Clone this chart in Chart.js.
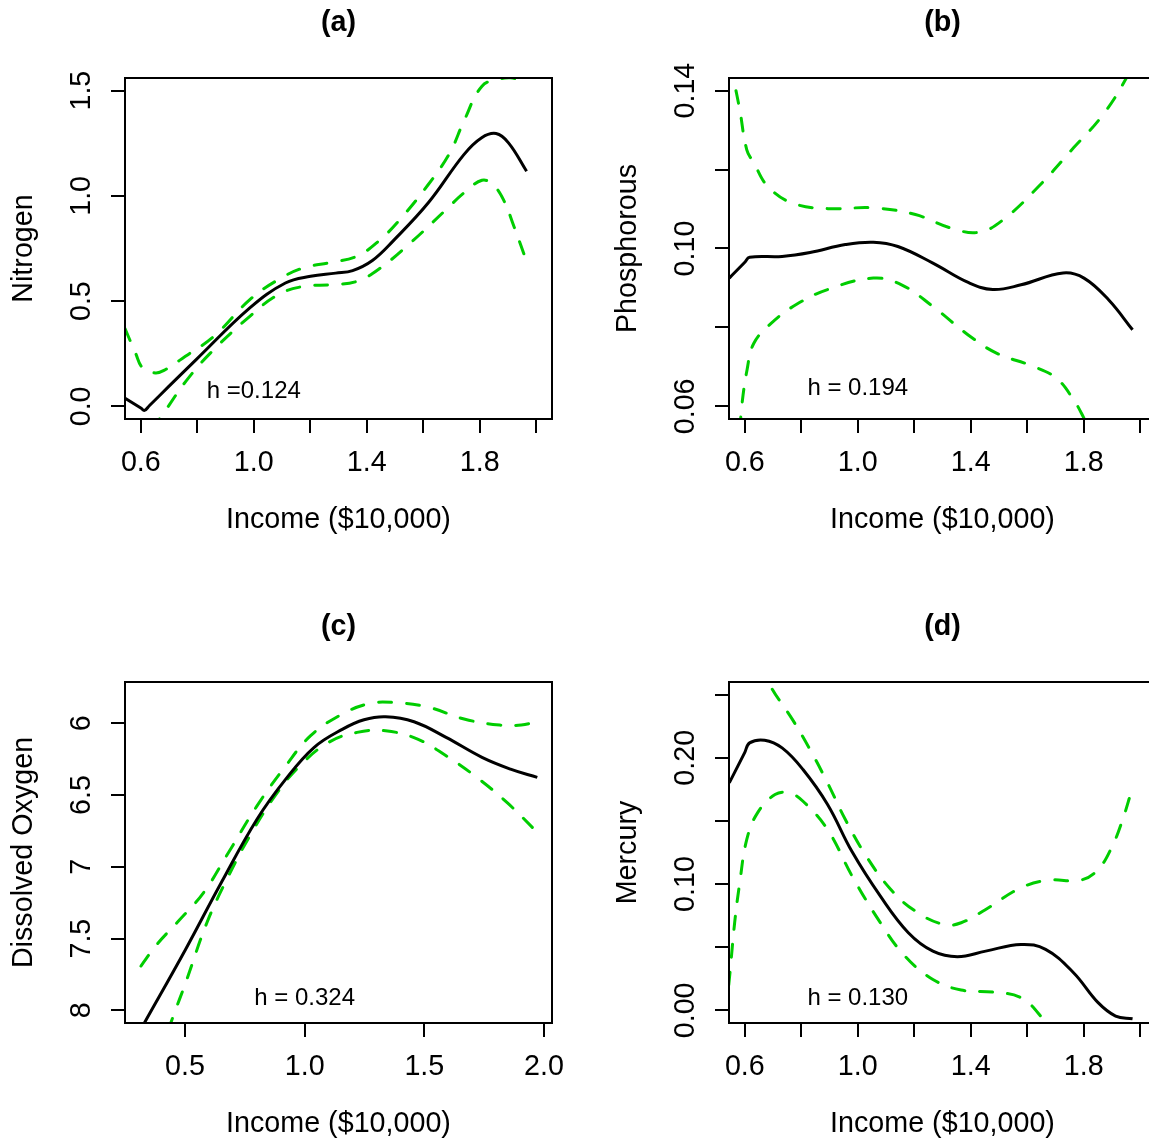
<!DOCTYPE html>
<html><head><meta charset="utf-8">
<script src="https://cdn.jsdelivr.net/npm/chart.js@4/dist/chart.umd.min.js"></script>
<style>
html,body{margin:0;padding:0;background:#fff;overflow:hidden;width:1149px;height:1139px;position:relative;}
.p{position:absolute;width:604px;height:604px;}
canvas{display:block;}
</style></head><body>
<div class="p" style="left:0px;top:0px"><canvas id="ca" width="604" height="604"></canvas></div>
<div class="p" style="left:604px;top:0px"><canvas id="cb" width="604" height="604"></canvas></div>
<div class="p" style="left:0px;top:604px"><canvas id="cc" width="604" height="604"></canvas></div>
<div class="p" style="left:604px;top:604px"><canvas id="cd" width="604" height="604"></canvas></div>
<script>
// ---------- data ----------
// (a) Nitrogen
const aFitX = [0.543, 0.600, 0.613, 0.630, 0.700, 0.796, 0.986, 1.112, 1.201, 1.290, 1.350, 1.420, 1.492, 1.618, 1.744, 1.807, 1.858, 1.902, 1.966];
const aFitY = [0.040, -0.008, -0.019, 0.003, 0.096, 0.222, 0.468, 0.586, 0.618, 0.633, 0.645, 0.693, 0.784, 0.967, 1.196, 1.276, 1.296, 1.252, 1.117];
const aUpX  = [0.544, 0.581, 0.607, 0.651, 0.682, 0.758, 0.859, 0.986, 1.087, 1.176, 1.277, 1.365, 1.441, 1.517, 1.618, 1.694, 1.744, 1.808, 1.871, 1.909, 1.966];
const aUpY  = [0.370, 0.254, 0.182, 0.159, 0.171, 0.238, 0.333, 0.507, 0.602, 0.658, 0.685, 0.713, 0.784, 0.887, 1.054, 1.204, 1.355, 1.521, 1.556, 1.561, 1.540];
const aLoX  = [0.640, 0.685, 0.760, 0.847, 0.986, 1.087, 1.176, 1.277, 1.365, 1.441, 1.555, 1.681, 1.744, 1.808, 1.846, 1.884, 1.921, 1.966];
const aLoY  = [-0.110, -0.024, 0.120, 0.254, 0.428, 0.531, 0.570, 0.578, 0.594, 0.650, 0.777, 0.935, 1.014, 1.074, 1.054, 0.982, 0.856, 0.689];
// (b) Phosphorous
const bFitX = [0.545, 0.600, 0.617, 0.732, 0.831, 0.956, 1.055, 1.142, 1.266, 1.391, 1.478, 1.578, 1.727, 1.801, 1.888, 1.973];
const bFitY = [0.0925, 0.0965, 0.0978, 0.0980, 0.0990, 0.1010, 0.1016, 0.1005, 0.0963, 0.0914, 0.0896, 0.0908, 0.0938, 0.0925, 0.0870, 0.0794];
const bUpX  = [0.552, 0.560, 0.582, 0.607, 0.632, 0.682, 0.769, 0.893, 1.055, 1.204, 1.329, 1.428, 1.515, 1.640, 1.764, 1.864, 1.951, 1.990];
const bUpY  = [0.1470, 0.1432, 0.1352, 0.1250, 0.1217, 0.1157, 0.1115, 0.1101, 0.1103, 0.1086, 0.1052, 0.1041, 0.1073, 0.1157, 0.1255, 0.1335, 0.1432, 0.1500];
const bLoX  = [0.583, 0.589, 0.608, 0.632, 0.694, 0.782, 0.893, 1.055, 1.155, 1.266, 1.391, 1.491, 1.615, 1.702, 1.764, 1.801, 1.850];
const bLoY  = [0.0540, 0.0600, 0.0693, 0.0760, 0.0811, 0.0858, 0.0896, 0.0925, 0.0908, 0.0853, 0.0781, 0.0735, 0.0703, 0.0672, 0.0617, 0.0570, 0.0500];
// (c) Dissolved Oxygen
const cFitX = [0.316, 0.331, 0.503, 0.652, 0.801, 0.921, 1.040, 1.159, 1.248, 1.338, 1.457, 1.591, 1.741, 1.860, 1.972];
const cFitY = [8.130, 8.086, 7.574, 7.109, 6.668, 6.389, 6.167, 6.040, 5.975, 5.954, 5.989, 6.098, 6.237, 6.319, 6.377];
const cUpX  = [0.316, 0.383, 0.473, 0.578, 0.682, 0.801, 0.921, 1.025, 1.144, 1.263, 1.368, 1.517, 1.666, 1.815, 1.905, 1.972];
const cUpY  = [7.691, 7.540, 7.377, 7.179, 6.900, 6.575, 6.296, 6.086, 5.947, 5.865, 5.854, 5.888, 5.970, 6.012, 6.012, 5.986];
const cLoX  = [0.430, 0.451, 0.503, 0.592, 0.682, 0.771, 0.876, 0.980, 1.100, 1.219, 1.338, 1.472, 1.591, 1.711, 1.845, 1.972];
const cLoY  = [8.140, 8.040, 7.807, 7.388, 7.063, 6.784, 6.505, 6.296, 6.133, 6.063, 6.052, 6.110, 6.226, 6.366, 6.551, 6.760];
// (d) Mercury
const dFitX = [0.545, 0.600, 0.617, 0.670, 0.732, 0.806, 0.893, 0.980, 1.080, 1.179, 1.266, 1.353, 1.453, 1.578, 1.665, 1.764, 1.851, 1.913, 1.973];
const dFitY = [0.1801, 0.2043, 0.2118, 0.2139, 0.2078, 0.1907, 0.1630, 0.1255, 0.0904, 0.0615, 0.0469, 0.0425, 0.0469, 0.0522, 0.0483, 0.0298, 0.0061, -0.0045, -0.0066];
const dUpX  = [0.660, 0.688, 0.769, 0.831, 0.893, 0.956, 1.030, 1.117, 1.204, 1.304, 1.366, 1.453, 1.578, 1.677, 1.789, 1.851, 1.901, 1.938, 1.969];
const dUpY  = [0.2750, 0.2579, 0.2302, 0.2065, 0.1801, 0.1511, 0.1221, 0.0957, 0.0786, 0.0680, 0.0694, 0.0799, 0.0971, 0.1031, 0.1031, 0.1116, 0.1300, 0.1511, 0.1735];
const dLoX  = [0.543, 0.548, 0.564, 0.582, 0.607, 0.645, 0.707, 0.757, 0.806, 0.893, 0.980, 1.080, 1.167, 1.266, 1.366, 1.478, 1.578, 1.652, 1.690];
const dLoY  = [0.0200, 0.0311, 0.0694, 0.1010, 0.1353, 0.1564, 0.1709, 0.1722, 0.1656, 0.1432, 0.1063, 0.0694, 0.0430, 0.0245, 0.0161, 0.0145, 0.0100, -0.0058, -0.0200];

// ---------- ticks ----------
const xTicksAB = [0.6, 0.8, 1.0, 1.2, 1.4, 1.6, 1.8, 2.0];
const xLabelsAB = ['0.6', '', '1.0', '', '1.4', '', '1.8', ''];
const xTicksC = [0.5, 1.0, 1.5, 2.0];
const xLabelsC = ['0.5', '1.0', '1.5', '2.0'];
const yTicksA = [0, 0.5, 1.0, 1.5];
const yLabelsA = ['0.0', '0.5', '1.0', '1.5'];
const yTicksB = [0.06, 0.08, 0.10, 0.12, 0.14];
const yLabelsB = ['0.06', '', '0.10', '', '0.14'];
const yTicksC = [6, 6.5, 7, 7.5, 8];
const yLabelsC = ['6', '6.5', '7', '7.5', '8'];
const yTicksD = [0, 0.05, 0.10, 0.15, 0.20, 0.25];
const yLabelsD = ['0.00', '', '0.10', '', '0.20', ''];

const titles = ['(a)', '(b)', '(c)', '(d)'];
const yTitles = ['Nitrogen', 'Phosphorous', 'Dissolved Oxygen', 'Mercury'];
const xTitle = 'Income ($10,000)';
const notes = ['h =0.124', 'h = 0.194', 'h = 0.324', 'h = 0.130'];
const noteX = [1.0, 1.0, 1.0, 1.0];
const noteY = [0.07, 0.0645, 7.914, 0.0095];

// ---------- drawing ----------
const FONT = "'Liberation Sans', Arial, Helvetica, sans-serif";
const FS = 28.7;
const GREEN = '#00CD00';
function pts(xs, ys) { return xs.map((x, i) => ({x: x, y: ys[i]})); }
function widest(labels, size) {
  const c = document.createElement('canvas').getContext('2d');
  c.font = size + 'px ' + FONT;
  return Math.max.apply(null, labels.map(l => c.measureText(l).width));
}
const rdecor = {
  id: 'rdecor',
  afterDraw(chart, args, o) {
    const ctx = chart.ctx, a = chart.chartArea, xs = chart.scales.x, ys = chart.scales.y;
    ctx.save();
    ctx.strokeStyle = '#000'; ctx.lineWidth = 2;
    ctx.strokeRect(a.left, a.top, a.right - a.left, a.bottom - a.top);
    ctx.fillStyle = '#000'; ctx.textAlign = 'center'; ctx.textBaseline = 'middle';
    ctx.font = 'bold ' + FS + 'px ' + FONT;
    ctx.fillText(o.title, (a.left + a.right) / 2, o.titleY);
    ctx.font = '24px ' + FONT;
    ctx.fillText(o.note, xs.getPixelForValue(o.noteX), ys.getPixelForValue(o.noteY));
    ctx.restore();
  }
};

function makeChart(id, P) {
  const yW = widest(P.yLabels.filter(s => s), FS);
  const lineDs = (xs, ys, color, dash) => ({
    data: pts(xs, ys), borderColor: color, borderWidth: 3, pointRadius: 0,
    tension: 0.4, borderDash: dash, borderCapStyle: dash.length ? 'round' : 'butt',
    borderJoinStyle: 'round', fill: false
  });
  const lab = (ticks, labels) => (v) => {
    const i = ticks.findIndex(t => Math.abs(t - v) < 1e-9);
    return i < 0 ? '' : labels[i];
  };
  new Chart(document.getElementById(id), {
    type: 'line',
    data: { datasets: [
      lineDs(P.fitX, P.fitY, '#000', []),
      lineDs(P.upX, P.upY, GREEN, [13, 15]),
      lineDs(P.loX, P.loY, GREEN, [13, 15])
    ]},
    options: {
      responsive: false, animation: false, devicePixelRatio: 1, events: [],
      layout: { padding: { left: 0, top: 78, right: 52, bottom: 0 } },
      plugins: {
        legend: { display: false }, tooltip: { enabled: false }, title: { display: false },
        rdecor: { title: P.title, titleY: 23, note: P.note, noteX: P.noteX, noteY: P.noteY }
      },
      scales: {
        x: {
          type: 'linear', position: 'bottom', min: P.xMin, max: P.xMax,
          afterBuildTicks: s => { s.ticks = P.xTicks.map(v => ({ value: v })); },
          afterFit: s => { s.height = 185; },
          ticks: { autoSkip: false, maxRotation: 0, minRotation: 0, padding: 12.5, color: '#000',
                   font: { family: FONT, size: FS }, callback: lab(P.xTicks, P.xLabels) },
          grid: { drawOnChartArea: false, drawTicks: true, tickLength: 14, tickWidth: 2, tickColor: '#000', color: '#000', lineWidth: 2 },
          border: { display: false },
          title: { display: true, text: xTitle, color: '#000', font: { family: FONT, size: FS }, padding: { top: 0, bottom: 67 } }
        },
        y: {
          type: 'linear', position: 'left', min: P.yMin, max: P.yMax, reverse: !!P.reverse,
          afterBuildTicks: s => { s.ticks = P.yTicks.map(v => ({ value: v })); },
          afterFit: s => { s.width = 125; },
          ticks: { autoSkip: false, minRotation: 90, maxRotation: 90, crossAlign: 'center',
                   padding: 125 - 14 - 82 - yW / 2, color: '#000',
                   font: { family: FONT, size: FS }, callback: lab(P.yTicks, P.yLabels) },
          grid: { drawOnChartArea: false, drawTicks: true, tickLength: 14, tickWidth: 2, tickColor: '#000', color: '#000', lineWidth: 2 },
          border: { display: false },
          title: { display: true, text: P.yTitle, color: '#000', font: { family: FONT, size: FS }, padding: { top: 7, bottom: 0 } }
        }
      }
    },
    plugins: [rdecor]
  });
}

makeChart('ca', { title: titles[0], yTitle: yTitles[0], note: notes[0], noteX: noteX[0], noteY: noteY[0],
  fitX: aFitX, fitY: aFitY, upX: aUpX, upY: aUpY, loX: aLoX, loY: aLoY,
  xMin: 0.544, xMax: 2.056, xTicks: xTicksAB, xLabels: xLabelsAB,
  yMin: -0.06, yMax: 1.56, yTicks: yTicksA, yLabels: yLabelsA });
makeChart('cb', { title: titles[1], yTitle: yTitles[1], note: notes[1], noteX: noteX[1], noteY: noteY[1],
  fitX: bFitX, fitY: bFitY, upX: bUpX, upY: bUpY, loX: bLoX, loY: bLoY,
  xMin: 0.544, xMax: 2.056, xTicks: xTicksAB, xLabels: xLabelsAB,
  yMin: 0.0568, yMax: 0.1432, yTicks: yTicksB, yLabels: yLabelsB });
makeChart('cc', { title: titles[2], yTitle: yTitles[2], note: notes[2], noteX: noteX[2], noteY: noteY[2],
  fitX: cFitX, fitY: cFitY, upX: cUpX, upY: cUpY, loX: cLoX, loY: cLoY,
  xMin: 0.2495, xMax: 2.0334, xTicks: xTicksC, xLabels: xLabelsC,
  yMin: 5.712, yMax: 8.088, reverse: true, yTicks: yTicksC, yLabels: yLabelsC });
makeChart('cd', { title: titles[3], yTitle: yTitles[3], note: notes[3], noteX: noteX[3], noteY: noteY[3],
  fitX: dFitX, fitY: dFitY, upX: dUpX, upY: dUpY, loX: dLoX, loY: dLoY,
  xMin: 0.544, xMax: 2.056, xTicks: xTicksAB, xLabels: xLabelsAB,
  yMin: -0.01, yMax: 0.26, yTicks: yTicksD, yLabels: yLabelsD });
</script>
</body></html>
